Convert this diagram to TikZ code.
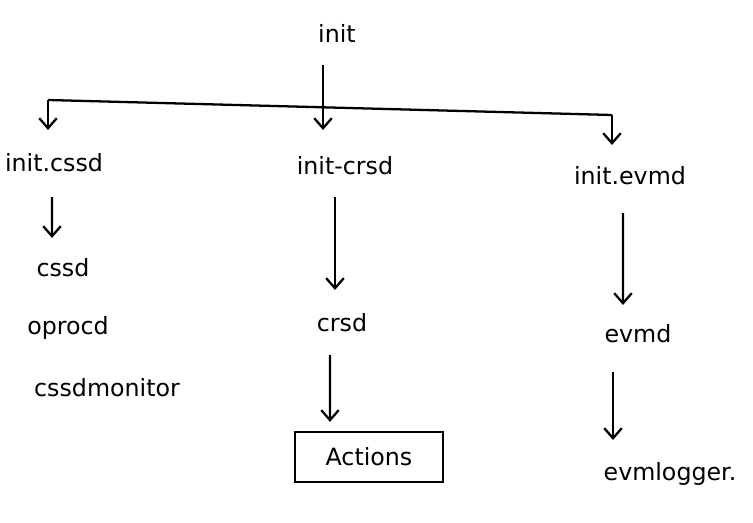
\documentclass[tikz,border=0pt]{standalone}
\usepackage{fontspec}
\setmainfont{DejaVu Sans}
\usetikzlibrary{arrows.meta}

\begin{document}
\begin{tikzpicture}[line width=1.3pt, every node/.style={inner sep=0pt, text height=1.5ex, text depth=.25ex, font=\fontsize{13.5}{16}\selectfont}, arr/.style={-{Straight Barb[length=2mm,width=3.5mm]}, shorten <=0.45cm, shorten >=0.45cm}]
		\useasboundingbox (0,0) rectangle (15.06,-10.46);
		\node (init) at (6.74,-0.74){init};
		\node (cssdinit) at (1.08,-3.3){init.cssd};
		\node (crsdinit) at (6.9,-3.36){init-crsd};
		\node (evmdinit) at (12.6,-3.56){init.evmd};
		
		\node (cssd) at (1.26,-5.4){cssd};
		\node (oprocd) at (1.36,-6.56){oprocd};
		\node (cssdmon) at (2.14,-7.8){cssdmonitor};
		\node (crsd) at (6.84,-6.5){crsd};
		\node[draw, minimum width=2.96cm, minimum height=1cm, text height=, text depth=] (actions) at (7.38,-9.14){Actions};
		\node (evmd) at (12.76,-6.72){evmd};
		\node (evmlog) at (13.4,-9.48){evmlogger.};
		
		\coordinate (barL) at (0.96,-2.0);
		\coordinate (barM) at (6.46,-2.15);
		\coordinate (barR) at (12.24,-2.3);
		
		\draw (barL) -- (barR);
		\draw[arr, shorten <=0.37cm, shorten >=0.57cm] (init.south -| barM) -- (crsdinit.north -| barM);
		\draw[arr, shorten <=0pt, shorten >=0.51cm] (barL) -- (cssdinit.north -| barL);
		\draw[arr, shorten <=0pt, shorten >=0.47cm] (barR) -- (evmdinit.north -| barR);
		
		\draw[arr] ([xshift=-0.04cm]cssdinit.south) -- ([xshift=-0.22cm]cssd.north);
		\draw[arr, shorten <=0.39cm, shorten >=0.51cm] ([xshift=-0.2cm]crsdinit.south) -- ([xshift=-0.14cm]crsd.north);
		\draw[arr, shorten <=0.41cm, shorten >=0.18cm] ([xshift=-0.24cm]crsd.south) -- ([xshift=-0.78cm]actions.north);
		\draw[arr, shorten <=0.51cm, shorten >=0.43cm] ([xshift=-0.14cm]evmdinit.south) -- ([xshift=-0.3cm]evmd.north);
		\draw[arr, shorten <=0.53cm, shorten >=0.49cm] ([xshift=-0.5cm]evmd.south) -- ([xshift=-1.14cm]evmlog.north);
		\end{tikzpicture}
\end{document}
